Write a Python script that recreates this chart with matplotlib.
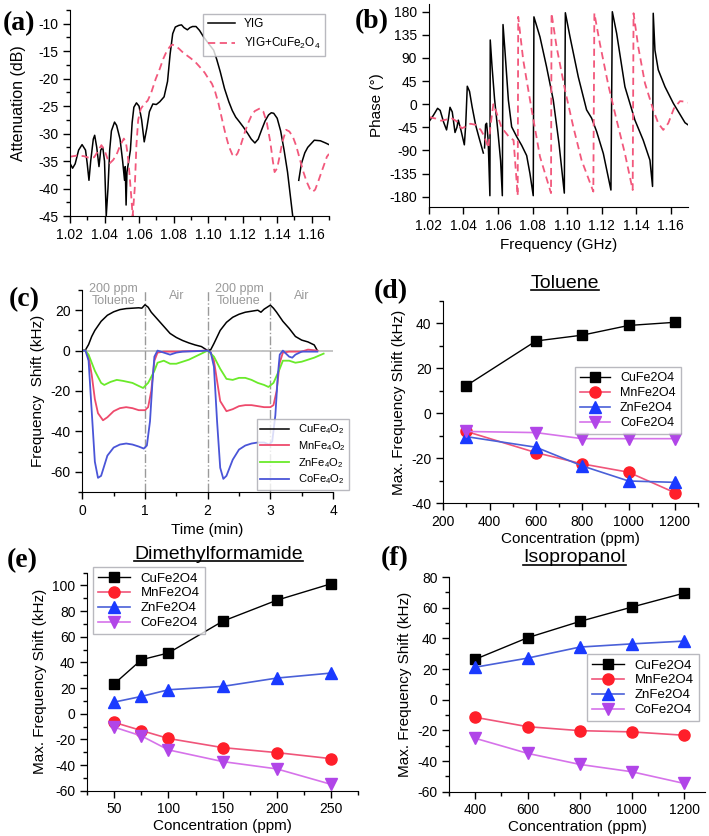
import numpy as np
import matplotlib.pyplot as plt
from matplotlib.ticker import MultipleLocator
from matplotlib.lines import Line2D

plt.rcParams['font.family'] = ['Liberation Sans', 'DejaVu Sans']
plt.rcParams['mathtext.fontset'] = 'custom'
plt.rcParams['mathtext.rm'] = 'Liberation Sans'
plt.rcParams['mathtext.it'] = 'Liberation Sans:italic'
plt.rcParams['mathtext.bf'] = 'Liberation Sans:bold'
plt.rcParams['axes.unicode_minus'] = False

nan = np.nan

# ---- (a) attenuation ----
fa_yig = [1.020, 1.0215, 1.023, 1.025, 1.027, 1.029, 1.030, 1.031, 1.032, 1.0335, 1.0343, 1.0355, 1.0368,
          1.0378, 1.039, 1.040, 1.041, 1.042, 1.043, 1.044, 1.0458, 1.047, 1.049, 1.0505, 1.0516, 1.052,
          1.0525, 1.053, 1.054, 1.055, 1.056, 1.057, 1.0585, 1.060, 1.0615, 1.063, 1.0645, 1.066, 1.068,
          1.070, 1.072, 1.0745, 1.0765, 1.078, 1.0795, 1.081, 1.083, 1.0846, 1.086, 1.088, 1.0895, 1.091,
          1.093, 1.095, 1.0974, 1.100, 1.1032, 1.105, 1.107, 1.1095, 1.112, 1.114, 1.116, 1.118, 1.1204,
          1.123, 1.125, 1.1271, 1.129, 1.131, 1.133, 1.135, 1.1366, 1.138, 1.140, 1.142, 1.144, 1.146,
          1.1475, 1.149, 1.151, 1.1525, 1.154, 1.156, 1.1577, 1.1615, 1.165, 1.168, 1.170]
att_yig = [-35.4, -36.3, -35.5, -33, -32, -33, -35.5, -38.5, -35, -31, -30.3, -32.5, -36,
           -33, -32.5, -35, -45, -40, -33, -29.5, -27.9, -28.5, -31, -35, -38.5, -36,
           -43, -37, -35, -33, -28, -25.2, -24.4, -25, -27.5, -31.5, -29, -26, -24.6,
           -24.7, -24.2, -23.3, -20.5, -15.5, -11.8, -10.6, -10.3, -10.2, -10.7, -11.1, -10.7, -10.5,
           -10.5, -11.2, -12.4, -13.5, -14.8, -16.5, -18.7, -21.8, -24.2, -25.8, -27, -27.8, -28.8,
           -30, -31, -31.7, -31, -29.3, -27.7, -26.6, -26.2, -26.3, -27.2, -29.5, -33, -37,
           -41, -45, nan, -38.5, -35.5, -33.5, -32.5, -31.2, -31.3, -31.7, -32]
fa_cu = [1.020, 1.024, 1.028, 1.031, 1.034, 1.036, 1.0382, 1.040, 1.042, 1.043, 1.045, 1.047, 1.049,
         1.0512, 1.0525, 1.0535, 1.0545, 1.0555, 1.0563, 1.0575, 1.0585, 1.0595, 1.061, 1.063, 1.065,
         1.067, 1.0697, 1.072, 1.074, 1.076, 1.078, 1.0793, 1.081, 1.083, 1.085, 1.087, 1.090, 1.0927,
         1.095, 1.098, 1.100, 1.1022, 1.104, 1.106, 1.108, 1.110, 1.112, 1.114, 1.1156, 1.117, 1.119,
         1.121, 1.123, 1.125, 1.127, 1.130, 1.132, 1.134, 1.136, 1.1375, 1.1385, 1.140, 1.1415, 1.143,
         1.1452, 1.147, 1.149, 1.151, 1.153, 1.155, 1.157, 1.159, 1.1605, 1.162, 1.164, 1.166, 1.1688, 1.170]
att_cu = [-34.2, -34.0, -34.1, -34.4, -34.3, -33.3, -32.1, -33, -34.8, -35.4, -34.8, -33.8, -32.2,
          -30.9, -31.8, -34, -37.5, -41.5, -45, -40, -32, -27.5, -25.5, -24.6, -24,
          -22.6, -20, -18.2, -16.4, -15, -14.1, -13.8, -14, -14.5, -15.1, -15.6, -16.3, -17,
          -17.8, -18.9, -19.9, -20.9, -22.3, -24.5, -27.3, -30, -32.3, -33.8, -34.2, -33.6, -32,
          -30, -28.2, -26.8, -25.9, -25.4, -26, -28, -31.5, -35, -37, -36.3, -34, -31.5,
          -29.3, -29.6, -30.5, -32.2, -34.5, -36.8, -38.7, -40.1, -40.6, -40.2, -38.5, -36.7, -34.2, -33.7]

# ---- (b) phase ----
fb_yig = [1.020, 1.0225, 1.025, 1.0265, 1.0285, 1.0302, 1.0312, 1.0322, 1.0335, 1.0351, 1.0362, 1.037,
          1.0385, 1.0405, 1.0413, 1.0422, 1.0435, 1.045, 1.047, 1.049, 1.0515, 1.0518, 1.0522, 1.0528,
          1.0534, 1.0543, 1.0553, 1.0555, 1.0565, 1.058, 1.060, 1.0615, 1.0625, 1.0629, 1.064, 1.066,
          1.0679, 1.0708, 1.0737, 1.0766, 1.0785, 1.0804, 1.0808, 1.0843, 1.0881, 1.092, 1.0953, 1.0984,
          1.0990, 1.1017, 1.1065, 1.1113, 1.1142, 1.1171, 1.121, 1.1254, 1.1262, 1.1287, 1.1335, 1.1393,
          1.1441, 1.148, 1.1495, 1.1499, 1.1509, 1.1528, 1.1567, 1.1615, 1.1683, 1.170]
ph_yig = [-34, -22, -8, -12, -35, -50, -30, -6, -15, -55, -45, -31,
          -50, -79, -40, 35, 25, -5, -40, -65, -95, nan, -85, -40,
          -37, -70, -178, 125, 75, 10, -55, -110, -178, 155, 105, 8,
          -44, -63, -80, -100, -135, -178, 170, 131, 73, 8, -76, -173,
          178, 131, 53, -11, -27, -53, -96, -167, 180, 138, 34, -31,
          -70, -109, -160, 177, 105, 67, 34, 2, -36, -40]
fb_cu = [1.020, 1.024, 1.027, 1.030, 1.033, 1.036, 1.0389, 1.041, 1.044, 1.047, 1.050, 1.052, 1.0544,
         1.0557, 1.0573, 1.059, 1.062, 1.066, 1.069, 1.0714, 1.0717, 1.0746, 1.0795, 1.0843, 1.0907,
         1.091, 1.0939, 1.0988, 1.1036, 1.1084, 1.1152, 1.1158, 1.119, 1.1239, 1.1287, 1.1335, 1.138,
         1.1385, 1.1412, 1.1451, 1.1499, 1.1528, 1.1557, 1.1586, 1.1619, 1.1654, 1.1683, 1.170]
ph_cu = [-25, -28, -32, -30, -27, -33, -47, -44, -38, -40, -50, -62, -85,
         -40, 0, -15, -45, -62, -70, -178, 170, 86, -11, -102, -173,
         177, 112, 28, -44, -109, -170, 177, 118, 37, -31, -96, -167,
         177, 112, 41, -11, -37, -50, -37, -8, 6, 5, 3]

# ---- (c) time response, 200 ppm toluene ----
t_cu = [0, 0.05, 0.1, 0.15, 0.2, 0.3, 0.4, 0.5, 0.6, 0.7, 0.8, 0.9, 0.95, 1.0, 1.05, 1.1, 1.2, 1.3, 1.4,
        1.5, 1.6, 1.7, 1.8, 1.9, 2.0, 2.05, 2.1, 2.2, 2.3, 2.4, 2.5, 2.6, 2.7, 2.8, 2.85, 2.9, 3.0,
        3.05, 3.1, 3.2, 3.3, 3.4, 3.5, 3.6, 3.7, 3.75]
shift_cu = [0, 0.3, 3, 7, 10, 14.5, 17.5, 19.2, 20.3, 20.8, 21, 21.2, 21, 22.7, 21.5, 19, 15.5, 12, 8.5,
            6.5, 5, 3.8, 2.8, 2, 0, 0.5, 3.5, 10, 14, 16.5, 18, 19, 19.5, 20, 19, 20.5, 22.5,
            21, 19, 14.5, 11, 7, 5.2, 4.3, 2.8, 0]
t_mn = [0, 0.05, 0.1, 0.15, 0.2, 0.25, 0.33, 0.4, 0.5, 0.6, 0.7, 0.8, 0.9, 1.0, 1.05, 1.1, 1.15, 1.2,
        1.3, 1.5, 1.7, 2.0, 2.05, 2.1, 2.15, 2.2, 2.3, 2.4, 2.5, 2.6, 2.7, 2.8, 2.9, 3.0, 3.05, 3.1,
        3.15, 3.2, 3.3, 3.5, 3.6, 3.75]
shift_mn = [0, 0, -3, -12, -24, -31, -34.5, -33, -30, -28.5, -28, -28.5, -29.5, -29.5, -28, -20, -5, -1,
            -0.5, -0.5, -0.3, 0, -1, -5, -15, -25, -30, -29, -27.5, -27, -27, -27.5, -28, -28, -27, -20,
            -6, -1, -0.5, -0.5, 0.5, 0]
t_zn = [0, 0.05, 0.1, 0.2, 0.3, 0.35, 0.45, 0.55, 0.65, 0.8, 0.9, 0.97, 1.05, 1.15, 1.2, 1.3, 1.4, 1.5,
        1.6, 1.7, 1.8, 1.9, 2.0, 2.1, 2.2, 2.3, 2.4, 2.5, 2.6, 2.7, 2.8, 2.9, 2.97, 3.05, 3.15, 3.2,
        3.3, 3.4, 3.5, 3.6, 3.7, 3.85]
shift_zn = [0, 0, -2, -10, -16, -17, -15.5, -14.5, -15, -16, -17.5, -18.5, -16, -10, -6, -5, -6.5, -6.5,
            -5.5, -4.5, -3, -1.5, 0, -3, -9, -14, -14.5, -13.5, -13.5, -14.5, -16, -17, -18, -16, -9, -5,
            -5, -6, -5.5, -4.5, -3.5, -1.5]
t_co = [0, 0.05, 0.1, 0.15, 0.2, 0.25, 0.3, 0.35, 0.4, 0.5, 0.6, 0.7, 0.8, 0.9, 0.98, 1.03, 1.08, 1.12,
        1.15, 1.2, 1.3, 1.4, 1.5, 1.6, 1.8, 2.0, 2.05, 2.1, 2.15, 2.2, 2.25, 2.3, 2.4, 2.5, 2.6, 2.7,
        2.8, 2.9, 2.98, 3.03, 3.08, 3.12, 3.15, 3.2, 3.3, 3.35, 3.4, 3.5, 3.75]
shift_co = [0, 0, -5, -30, -55, -63, -62, -57, -52, -48, -46.5, -46, -46.5, -47.5, -48.5, -47, -35, -15,
            -3, 0, -1, -2, -1, -0.5, -0.3, 0, -1, -8, -35, -58, -63.5, -62, -54, -49, -47, -46,
            -45.5, -45.5, -46.5, -45, -32, -12, -2, 0, -3, -3.5, -2, -0.5, -0.5]

# ---- (d) toluene ----
conc_d = [300, 600, 800, 1000, 1200]
tol_cu = [12.3, 32.1, 34.7, 39.0, 40.4]
tol_mn = [-8.1, -17.5, -22.5, -26.2, -35.3]
tol_zn = [-10.4, -15.1, -23.4, -30.1, -30.7]
tol_co = [-8.1, -8.6, -11.3, -11.3, -11.3]

# ---- (e) dimethylformamide ----
conc_e = [50, 75, 100, 150, 200, 250]
dmf_cu = [23.4, 42.1, 47.4, 72.1, 88.5, 101.3]
dmf_mn = [-6.8, -13.1, -19.3, -26.4, -30.3, -35.0]
dmf_zn = [9.1, 13.5, 18.7, 21.3, 27.8, 31.7]
dmf_co = [-10.5, -17.3, -28.2, -37.3, -43.0, -55.0]

# ---- (f) isopropanol ----
conc_f = [400, 600, 800, 1000, 1200]
iso_cu = [26.4, 40.4, 51.0, 60.4, 69.5]
iso_mn = [-11.5, -17.6, -20.2, -21.0, -23.2]
iso_zn = [21.2, 27.1, 34.3, 36.4, 38.2]
iso_co = [-25.2, -35.0, -42.2, -47.0, -54.6]

names = ['CuFe2O4', 'MnFe2O4', 'ZnFe2O4', 'CoFe2O4']

pink = '#f2587c'
leg_edge = '#a8a8b0'

fig = plt.figure(figsize=(7.09, 8.36), dpi=100)


def style(ax, xmaj, xmin, ymaj, ymin, size=10):
    ax.spines['top'].set_visible(False)
    ax.spines['right'].set_visible(False)
    ax.xaxis.set_major_locator(MultipleLocator(xmaj))
    ax.yaxis.set_major_locator(MultipleLocator(ymaj))
    if xmin:
        ax.xaxis.set_minor_locator(MultipleLocator(xmin))
    if ymin:
        ax.yaxis.set_minor_locator(MultipleLocator(ymin))
    ax.tick_params(which='major', direction='out', length=5, width=1, labelsize=size)
    ax.tick_params(which='minor', direction='out', length=3, width=1)


def underlined(ax, text, x, y):
    t = ax.text(x, y, text, transform=ax.transAxes, ha='center', va='bottom', fontsize=14)
    fig.canvas.draw()
    bb = t.get_window_extent().transformed(fig.transFigure.inverted())
    fig.add_artist(Line2D([bb.x0, bb.x1], [bb.y0 + 0.002, bb.y0 + 0.002], transform=fig.transFigure,
                          color='black', lw=1.2))


# (a)
ax = fig.add_axes([0.0987, 0.2416 + 0.5, 0.3653, 0.2464])
ax.plot(fa_yig, att_yig, color='black', lw=1.1, label='YIG')
ax.plot(fa_cu, att_cu, color=pink, lw=1.3, ls=(0, (4, 2.5)), label='YIG+CuFe$_2$O$_4$')
ax.set_xlim(1.02, 1.17)
ax.set_ylim(-45, -7.5)
style(ax, 0.02, 0.01, 5, 2.5)
ax.set_ylabel('Attenuation (dB)', fontsize=11.5)
ax.yaxis.set_label_coords(-0.17, 0.55)
ax.legend(loc='upper right', fontsize=8.5, frameon=True, fancybox=False, edgecolor=leg_edge,
          borderaxespad=0.3, handlelength=2.3)

# (b)
ax = fig.add_axes([0.605, 0.7524, 0.3653, 0.2428])
ax.plot(fb_yig, ph_yig, color='black', lw=1.1)
ax.plot(fb_cu, ph_cu, color=pink, lw=1.3, ls=(0, (4, 2.5)))
ax.set_xlim(1.02, 1.17)
ax.set_ylim(-200, 195)
style(ax, 0.02, None, 45, None)
ax.set_ylabel('Phase (°)', fontsize=11)
ax.set_xlabel('Frequency (GHz)', fontsize=11)

# (c)
ax = fig.add_axes([0.1161, 0.4115, 0.3536, 0.2416])
ax.axhline(0, color='#c0c0c0', lw=1.3, zorder=0)
for xv in [1, 2, 3]:
    ax.axvline(xv, color='#9a9a9a', lw=1, ls='-.', zorder=0)
ax.plot(t_cu, shift_cu, color='black', lw=1.1, label='CuFe$_4$O$_2$')
ax.plot(t_mn, shift_mn, color='#ee4a6c', lw=1.3, label='MnFe$_4$O$_2$')
ax.plot(t_zn, shift_zn, color='#6aea2a', lw=1.3, label='ZnFe$_4$O$_2$')
ax.plot(t_co, shift_co, color='#4a55d8', lw=1.3, label='CoFe$_4$O$_2$')
ax.set_xlim(0, 4)
ax.set_ylim(-70, 30)
style(ax, 1, 0.5, 20, 10, size=10)
ax.set_xlabel('Time (min)', fontsize=11)
ax.set_ylabel('Frequency  Shift (kHz)', fontsize=11)
for xv in [0.5, 2.5]:
    ax.text(xv, 33.5, '200 ppm\nToluene', color='#9a9a9a', fontsize=9, ha='center', va='top',
            linespacing=1.05)
for xv in [1.5, 3.5]:
    ax.text(xv, 30, 'Air', color='#9a9a9a', fontsize=9, ha='center', va='top')
ax.legend(loc='lower right', bbox_to_anchor=(1.065, 0.012), fontsize=8, frameon=True, fancybox=False,
          edgecolor=leg_edge, borderaxespad=0, handlelength=2.6, labelspacing=0.25, borderpad=0.3)


def sensor_panel(ax, conc, cu, mn, zn, co):
    ax.plot(conc, cu, color='black', lw=1, marker='s', ms=7, mfc='black', mec='black', label=names[0])
    ax.plot(conc, mn, color='#f0557a', lw=1.2, marker='o', ms=8, mfc='#ff1f2a', mec='#ff1f2a',
            label=names[1])
    ax.plot(conc, zn, color='#4a60d8', lw=1.2, marker='^', ms=8, mfc='#1a3aff', mec='#1a3aff',
            label=names[2])
    ax.plot(conc, co, color='#d673ea', lw=1.2, marker='v', ms=8, mfc='#b145e8', mec='#b145e8',
            label=names[3])
    ax.set_xlabel('Concentration (ppm)', fontsize=11, labelpad=2)
    ax.set_ylabel('Max. Frequency Shift (kHz)', fontsize=11)


# (d)
ax = fig.add_axes([0.6253, 0.398, 0.3592, 0.2423])
sensor_panel(ax, conc_d, tol_cu, tol_mn, tol_zn, tol_co)
ax.set_xlim(200, 1300)
ax.set_ylim(-40, 50)
style(ax, 200, 100, 20, 10)
ax.legend(loc='upper left', bbox_to_anchor=(0.517, 0.673), fontsize=9, frameon=True, fancybox=False,
          edgecolor=leg_edge, borderaxespad=0, handlelength=2.4, labelspacing=0.25)
underlined(ax, 'Toluene', 0.478, 1.045)

# (e)
ax = fig.add_axes([0.1231, 0.0542, 0.3818, 0.2608])
sensor_panel(ax, conc_e, dmf_cu, dmf_mn, dmf_zn, dmf_co)
ax.set_xlim(25, 275)
ax.set_ylim(-60, 110)
style(ax, 50, 25, 20, 10)
ax.legend(loc='upper left', bbox_to_anchor=(0.021, 1.026), fontsize=9.5, frameon=True, fancybox=False,
          edgecolor=leg_edge, borderaxespad=0, handlelength=2.4, labelspacing=0.2)
underlined(ax, 'Dimethylformamide', 0.485, 1.045)

# (f)
ax = fig.add_axes([0.6337, 0.053, 0.3606, 0.2568])
sensor_panel(ax, conc_f, iso_cu, iso_mn, iso_zn, iso_co)
ax.set_xlim(300, 1280)
ax.set_ylim(-60, 80)
style(ax, 200, 100, 20, 10)
ax.legend(loc='upper left', bbox_to_anchor=(0.539, 0.641), fontsize=9.5, frameon=True, fancybox=False,
          edgecolor=leg_edge, borderaxespad=0, handlelength=2.4, labelspacing=0.2)
underlined(ax, 'Isopropanol', 0.49, 1.05)

# panel letters
for lab, x, y in [('(a)', 3, 24), ('(b)', 355, 22), ('(c)', 9, 300),
                  ('(d)', 374, 292), ('(e)', 7, 561), ('(f)', 381, 559)]:
    fig.text(x / 709, 1 - y / 836, lab, fontfamily='Liberation Serif', fontweight='bold', fontsize=20,
             va='center', ha='left')

fig.savefig('out.png', dpi=100)
